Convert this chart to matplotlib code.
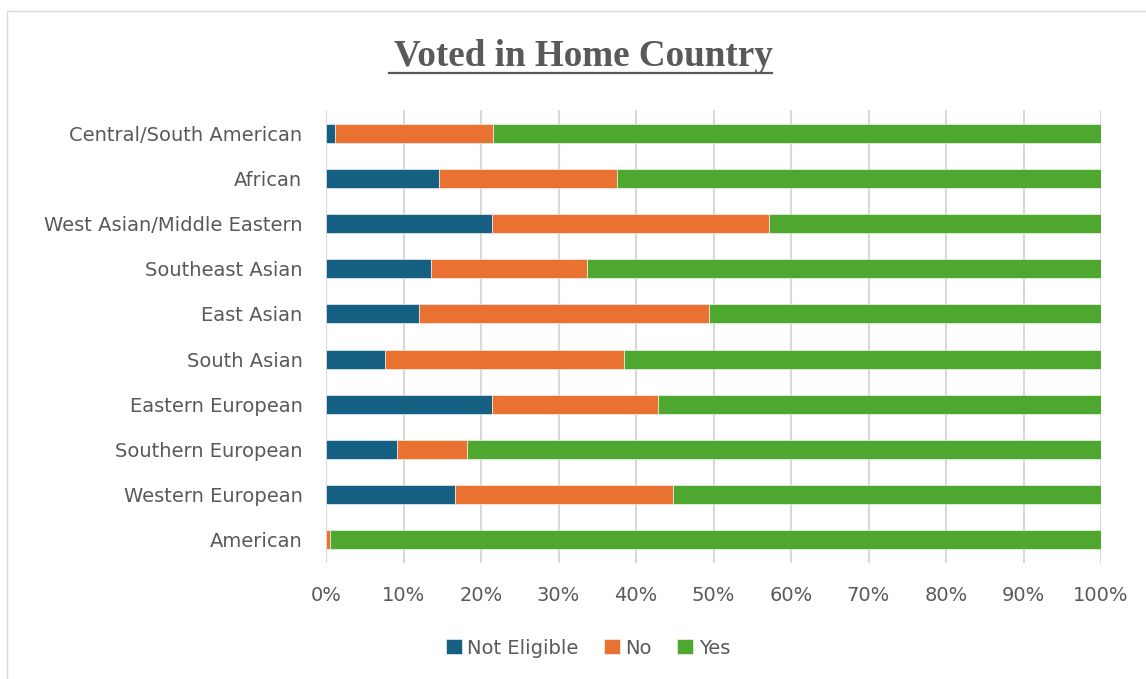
import matplotlib.pyplot as plt
from matplotlib.patches import Rectangle
from matplotlib.lines import Line2D
from matplotlib.ticker import PercentFormatter

# regions listed bottom to top, shares in percent
regions = ["American", "Western European", "Southern European", "Eastern European",
           "South Asian", "East Asian", "Southeast Asian", "West Asian/Middle Eastern",
           "African", "Central/South American"]
not_eligible = [0.0, 16.6, 9.1, 21.4, 7.6, 12.0, 13.5, 21.4, 14.6, 1.1]
no = [0.5, 28.2, 9.1, 21.5, 30.9, 37.4, 20.2, 35.8, 22.9, 20.5]
yes = [99.5, 55.2, 81.8, 57.1, 61.5, 50.6, 66.3, 42.8, 62.5, 78.4]

c_ne = "#156082"
c_no = "#E97132"
c_yes = "#4EA72E"
grey = "#595959"

plt.rcParams['font.family'] = ['DejaVu Sans']

W, H = 1146, 679
fig = plt.figure(figsize=(W / 100, H / 100), dpi=100)
ax = fig.add_axes([326 / W, 1 - 562.6 / H, (1101 - 326) / W, (562.6 - 110.4) / H])

y = range(len(regions))
left_no = [a for a in not_eligible]
left_yes = [a + b for a, b in zip(not_eligible, no)]
bh = 0.42
ax.barh(y, not_eligible, height=bh, color=c_ne, edgecolor="white", linewidth=0.4, label="Not Eligible", zorder=3)
ax.barh(y, no, left=left_no, height=bh, color=c_no, edgecolor="white", linewidth=0.4, label="No", zorder=3)
ax.barh(y, yes, left=left_yes, height=bh, color=c_yes, edgecolor="white", linewidth=0.4, label="Yes", zorder=3)

ax.set_xlim(0, 100)
ax.set_ylim(-0.5, len(regions) - 0.5)
ax.set_xticks(range(0, 101, 10))
ax.xaxis.set_major_formatter(PercentFormatter(decimals=0))
ax.set_yticks(list(y))
ax.set_yticklabels(regions)
ax.tick_params(axis="both", length=0, labelsize=14, colors=grey)
ax.tick_params(axis="x", pad=17)
ax.tick_params(axis="y", pad=17)
ax.grid(axis="x", color="#d9d9d9", linewidth=1.5, zorder=0)
for s in ax.spines.values():
    s.set_visible(False)

leg = fig.legend(loc="center", bbox_to_anchor=(588 / W, 1 - 648 / H), ncol=3, frameon=False,
                 fontsize=14, handlelength=0.8, handleheight=0.8, handletextpad=0.3,
                 columnspacing=1.3)
for t in leg.get_texts():
    t.set_color(grey)

# title with underline
title = fig.text(583 / W, 1 - 57 / H, "Voted in Home Country", ha="center", va="center",
                 family="Liberation Serif", fontweight="bold", fontsize=26.7, color=grey)
fig.canvas.draw()
bb = title.get_window_extent().transformed(fig.transFigure.inverted())
fig.add_artist(Line2D([bb.x0 - 0.004, bb.x1], [1 - 73 / H] * 2, color=grey, linewidth=1.6))

# outer chart frame
fig.add_artist(Rectangle((7 / W, -0.1), 1.2, 1 - 11 / H + 0.1, transform=fig.transFigure,
                         fill=False, edgecolor="#d9d9d9", linewidth=1))

fig.savefig("out.png", dpi=100)
